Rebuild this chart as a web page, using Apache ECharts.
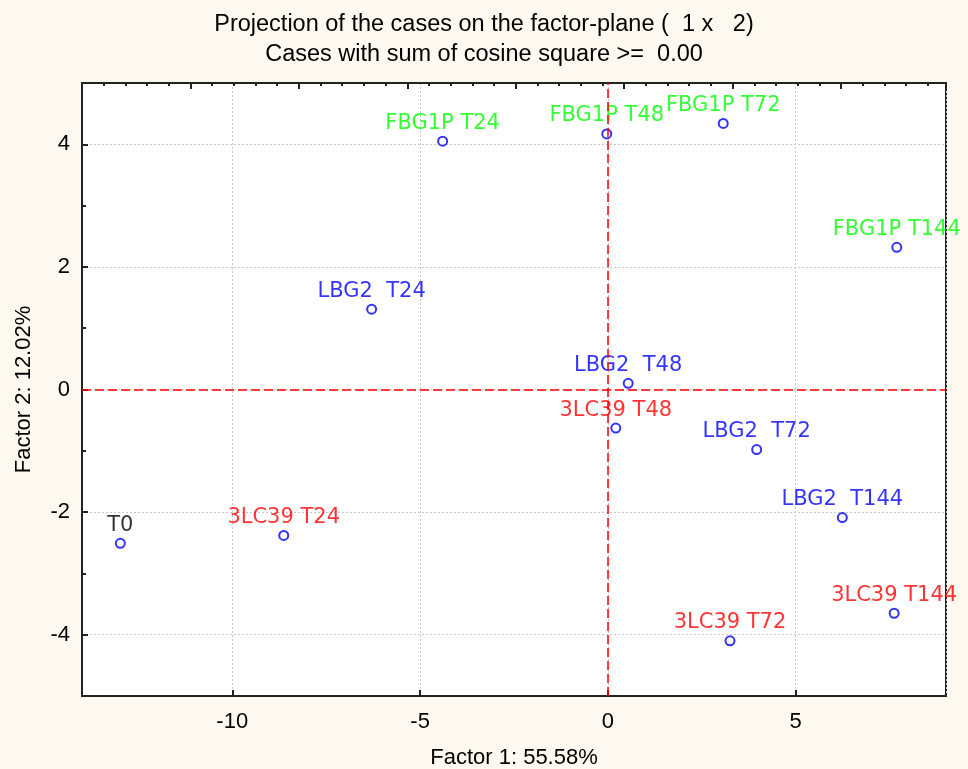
<!DOCTYPE html>
<html>
<head>
<meta charset="utf-8">
<script src="https://cdn.jsdelivr.net/npm/echarts@6/dist/echarts.min.js"></script>
<style>
html,body{margin:0;padding:0;background:#fdf9f0;}
#chart{width:968px;height:769px;}
</style>
</head>
<body>
<div id="chart"></div>
<script>
// Data
const caseNames = ['T0','3LC39 T24','LBG2  T24','FBG1P T24','FBG1P T48','FBG1P T72','FBG1P T144','LBG2  T48','3LC39 T48','LBG2  T72','LBG2  T144','3LC39 T144','3LC39 T72'];
const caseGroups = ['T0','3LC39','LBG2','FBG1P','FBG1P','FBG1P','FBG1P','LBG2','3LC39','LBG2','LBG2','3LC39','3LC39'];
const factor1 = [-12.98,-8.63,-6.29,-4.40,-0.03,3.07,7.69,0.54,0.21,3.96,6.24,7.62,3.25];
const factor2 = [-2.51,-2.38,1.31,4.05,4.17,4.34,2.32,0.10,-0.63,-0.98,-2.09,-3.65,-4.10];
const titleText = 'Projection of the cases on the factor-plane (  1 x   2)';
const subtitleText = 'Cases with sum of cosine square >=  0.00';
const xName = 'Factor 1: 55.58%';
const yName = 'Factor 2: 12.02%';

const groupColor = {T0:'#000000','3LC39':'#ff0000',LBG2:'#0000ff',FBG1P:'#00ff00'};

const chart = echarts.init(document.getElementById('chart'), null, {renderer:'canvas'});
const pts = caseNames.map((n,i)=>({
  name:n,
  value:[factor1[i],factor2[i]],
  label:{color:groupColor[caseGroups[i]]}
}));

const axisFont = {fontFamily:'Liberation Sans', fontSize:22, color:'#000'};

chart.setOption({
  backgroundColor:'#fdf9f0',
  animation:false,
  title:[
    {text:titleText, left:'center', top:8, textStyle:{fontFamily:'Liberation Sans', fontSize:23.5, fontWeight:'normal', color:'#000'}},
    {text:subtitleText, left:'center', top:38, textStyle:{fontFamily:'Liberation Sans', fontSize:23.5, fontWeight:'normal', color:'#000'}}
  ],
  grid:{left:82, right:22, top:83, bottom:73, show:true, backgroundColor:'#ffffff', borderColor:'#222', borderWidth:2, containLabel:false, outerBoundsMode:'none'},
  xAxis:[
    {type:'value', min:-14, max:9, splitNumber:5,
     name:xName, nameLocation:'middle', nameGap:51, nameTextStyle:axisFont,
     axisLine:{show:true, onZero:false, lineStyle:{color:'#222', width:2}},
     axisTick:{show:true, inside:true, length:6, lineStyle:{color:'#222', width:2}},
     axisLabel:Object.assign({showMinLabel:false, showMaxLabel:false, margin:15}, axisFont),
     splitLine:{show:true, lineStyle:{color:'#c8c8c8', type:[2,2], width:1}}},
    {type:'value', position:'top', min:0, max:39.84, interval:5,
     axisLine:{show:true, onZero:false, lineStyle:{color:'#222', width:2}}, axisLabel:{show:false}, splitLine:{show:false},
     axisTick:{show:true, inside:true, length:6, lineStyle:{color:'#222', width:2}},
     minorTick:{show:true, splitNumber:5, length:3, lineStyle:{color:'#222', width:2}}}
  ],
  yAxis:[
    {type:'value', min:-5, max:5, splitNumber:5,
     name:yName, nameLocation:'middle', nameGap:47, nameTextStyle:axisFont,
     axisLine:{show:true, onZero:false, lineStyle:{color:'#222', width:2}},
     axisTick:{show:true, inside:true, length:6, lineStyle:{color:'#222', width:2}},
     minorTick:{show:true, splitNumber:2, length:4, lineStyle:{color:'#222', width:2}},
     axisLabel:Object.assign({showMinLabel:false, showMaxLabel:false, margin:12}, axisFont),
     splitLine:{show:true, lineStyle:{color:'#c8c8c8', type:[2,2], width:1}}}
  ],
  series:[{
    type:'scatter',
    xAxisIndex:0, yAxisIndex:0,
    symbol:'emptyCircle',
    symbolSize:9,
    itemStyle:{color:'#0000ff', borderColor:'#0000ff', borderWidth:1.6},
    label:{show:true, position:'top', distance:2, formatter:p=>p.name, fontFamily:'DejaVu Sans', fontSize:21},
    data:pts,
    markLine:{
      silent:true, symbol:'none', label:{show:false},
      lineStyle:{color:'#ff0000', type:[9,4], width:1.5},
      data:[{xAxis:0},{yAxis:0}]
    },
    z:3
  }]
});
</script>
</body>
</html>
